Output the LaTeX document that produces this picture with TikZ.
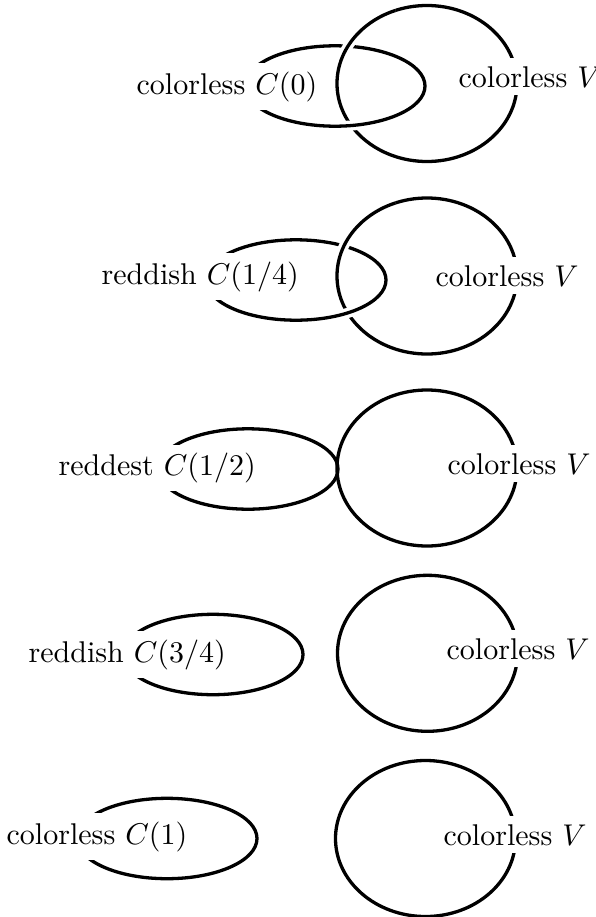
\documentclass[tikz,border=0pt]{standalone}
\begin{document}
\begin{tikzpicture}[x=0.33333pt,y=-0.33333pt,
  curve/.style={line width=1.1pt},
  halo/.style={white,line width=3.4pt},
  lbl/.style={fill=white,inner xsep=1pt,inner ysep=2.7pt,anchor=base west},
  Vshape/.style={x radius=30pt,y radius=26pt},
  Cshape/.style={x radius=30pt,y radius=13.4pt}]
\useasboundingbox (0,0) rectangle (595,917);

% ---- row 1 : linked
\draw[curve] (427,83.5) ellipse [Vshape];
\draw[halo] (335,86) ellipse [Cshape];
\draw[curve] (335,86) ellipse [Cshape];
\begin{scope}
  \clip (305,-15) rectangle (395,68);
  \draw[halo] (427,83.5) ellipse [Vshape];
  \draw[curve] (427,83.5) ellipse [Vshape];
\end{scope}
\node[lbl] (c0) at (133,94) {colorless $C(0)$};
\node[lbl] (v0) at (455,87) {colorless $V$};

% ---- row 2 : linked
\draw[curve] (427,276) ellipse [Vshape];
\draw[halo] (296,280) ellipse [Cshape];
\draw[curve] (296,280) ellipse [Cshape];
\begin{scope}
  \clip (305,181) rectangle (395,261);
  \draw[halo] (427,276) ellipse [Vshape];
  \draw[curve] (427,276) ellipse [Vshape];
\end{scope}
\node[lbl] (c1) at (98,284) {reddish $C(1/4)$};
\node[lbl] (v1) at (432,286) {colorless $V$};

% ---- row 3 : touching
\draw[curve] (427,468) ellipse [Vshape];
\draw[curve] (248,469) ellipse [Cshape];
\node[lbl] (c2) at (55,475.5) {reddest $C(1/2)$};
\node[lbl] (v2) at (444,474) {colorless $V$};

% ---- row 4 : apart
\draw[curve] (427.5,653.3) ellipse [Vshape];
\draw[curve] (213,654.5) ellipse [Cshape];
\node[lbl] (c3) at (25,662) {reddish $C(3/4)$};
\node[lbl] (v3) at (443,659) {colorless $V$};

% ---- row 5 : apart
\draw[curve] (425.5,838.5) ellipse [Vshape];
\draw[curve] (167,838.5) ellipse [Cshape];
\node[lbl] (c4) at (3,844) {colorless $C(1)$};
\node[lbl] (v4) at (440,845) {colorless $V$};
\end{tikzpicture}
\end{document}
